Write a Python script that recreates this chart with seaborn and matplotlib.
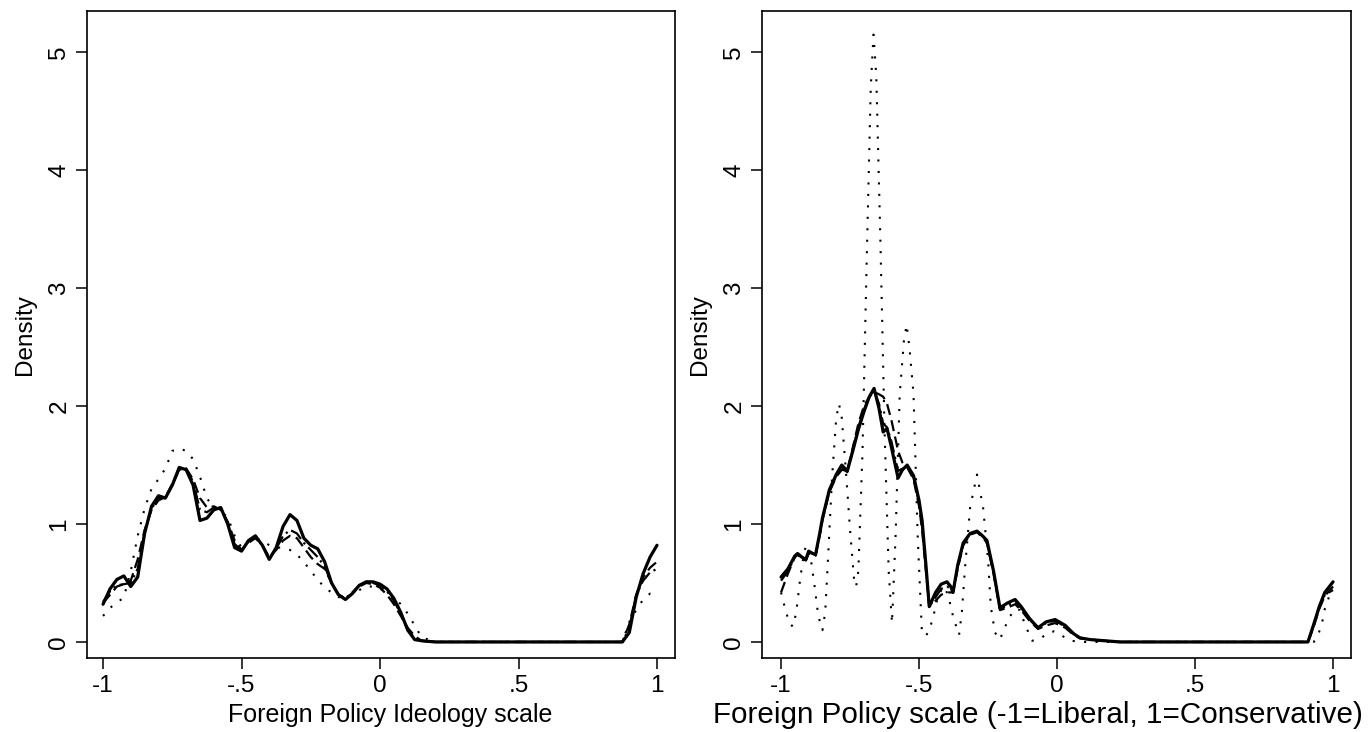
import matplotlib
matplotlib.use("Agg")
import matplotlib.pyplot as plt
import seaborn as sns
import pandas as pd

# ---- Left panel: foreign policy ideology scale -------------------------
left_x = [-1.0, -0.975, -0.95, -0.925, -0.9, -0.875, -0.85, -0.825, -0.8, -0.775,
          -0.75, -0.725, -0.7, -0.675, -0.65, -0.625, -0.6, -0.575, -0.55, -0.525,
          -0.5, -0.475, -0.45, -0.425, -0.4, -0.375, -0.35, -0.325, -0.3, -0.275,
          -0.25, -0.225, -0.2, -0.175, -0.15, -0.125, -0.1, -0.075, -0.05, -0.025,
          0.0, 0.025, 0.05, 0.075, 0.1, 0.125, 0.15, 0.2, 0.3, 0.5,
          0.7, 0.85, 0.875, 0.9, 0.925, 0.95, 0.975, 1.0]
left_solid = [0.32, 0.45, 0.53, 0.56, 0.47, 0.55, 0.92, 1.15, 1.24, 1.22,
              1.33, 1.48, 1.46, 1.33, 1.03, 1.05, 1.12, 1.14, 1.00, 0.80,
              0.77, 0.86, 0.90, 0.82, 0.70, 0.80, 0.98, 1.08, 1.03, 0.88,
              0.82, 0.79, 0.68, 0.50, 0.40, 0.36, 0.41, 0.48, 0.51, 0.51,
              0.49, 0.45, 0.37, 0.25, 0.10, 0.02, 0.01, 0.0, 0.0, 0.0,
              0.0, 0.0, 0.0, 0.08, 0.38, 0.58, 0.72, 0.82]
left_dash = [0.33, 0.40, 0.47, 0.49, 0.52, 0.70, 0.95, 1.12, 1.20, 1.23,
             1.34, 1.46, 1.47, 1.38, 1.22, 1.14, 1.15, 1.12, 1.02, 0.86,
             0.78, 0.84, 0.88, 0.82, 0.72, 0.78, 0.86, 0.90, 0.88, 0.80,
             0.72, 0.66, 0.62, 0.50, 0.40, 0.37, 0.41, 0.47, 0.50, 0.49,
             0.46, 0.40, 0.32, 0.22, 0.12, 0.05, 0.01, 0.0, 0.0, 0.0,
             0.0, 0.0, 0.0, 0.15, 0.40, 0.55, 0.63, 0.68]
left_dashdot = [0.34, 0.43, 0.48, 0.49, 0.50, 0.62, 0.93, 1.13, 1.22, 1.22,
                1.33, 1.46, 1.47, 1.36, 1.12, 1.10, 1.14, 1.13, 1.01, 0.83,
                0.78, 0.85, 0.89, 0.82, 0.71, 0.79, 0.90, 0.95, 0.92, 0.84,
                0.78, 0.72, 0.64, 0.50, 0.40, 0.37, 0.42, 0.48, 0.51, 0.50,
                0.48, 0.43, 0.35, 0.24, 0.11, 0.03, 0.01, 0.0, 0.0, 0.0,
                0.0, 0.0, 0.0, 0.12, 0.40, 0.52, 0.59, 0.62]
left_dot = [0.22, 0.29, 0.33, 0.38, 0.60, 0.90, 1.13, 1.30, 1.38, 1.47,
            1.62, 1.64, 1.62, 1.55, 1.40, 1.22, 1.13, 1.10, 1.06, 0.90,
            0.80, 0.86, 0.88, 0.86, 0.82, 0.80, 0.80, 0.78, 0.74, 0.68,
            0.60, 0.53, 0.46, 0.42, 0.38, 0.38, 0.40, 0.44, 0.47, 0.47,
            0.45, 0.42, 0.38, 0.32, 0.24, 0.14, 0.04, 0.0, 0.0, 0.0,
            0.0, 0.0, 0.0, 0.17, 0.27, 0.36, 0.41, 0.40]

# ---- Right panel: foreign policy scale ---------------------------------
right_x = [-1.0, -0.975, -0.95, -0.94, -0.925, -0.91, -0.9, -0.885, -0.875, -0.86,
           -0.85, -0.825, -0.8, -0.78, -0.76, -0.74, -0.72, -0.7, -0.68, -0.663,
           -0.645, -0.63, -0.616, -0.6, -0.576, -0.56, -0.543, -0.52, -0.5, -0.489,
           -0.475, -0.463, -0.44, -0.42, -0.399, -0.385, -0.377, -0.36, -0.34, -0.315,
           -0.29, -0.27, -0.254, -0.23, -0.207, -0.18, -0.152, -0.13, -0.1, -0.069,
           -0.04, -0.007, 0.03, 0.06, 0.083, 0.12, 0.228, 0.5, 0.909, 0.93,
           0.95, 0.97, 1.0]
right_solid = [0.55, 0.62, 0.73, 0.75, 0.72, 0.70, 0.77, 0.75, 0.74, 0.92,
               1.05, 1.29, 1.42, 1.50, 1.45, 1.62, 1.80, 1.95, 2.08, 2.15,
               1.98, 1.78, 1.81, 1.65, 1.39, 1.46, 1.50, 1.41, 1.20, 1.03,
               0.65, 0.30, 0.42, 0.49, 0.51, 0.47, 0.42, 0.65, 0.84, 0.92,
               0.94, 0.90, 0.86, 0.60, 0.29, 0.33, 0.36, 0.30, 0.20, 0.12,
               0.17, 0.19, 0.14, 0.07, 0.035, 0.02, 0.0, 0.0, 0.0, 0.15,
               0.30, 0.42, 0.51]
right_dash = [0.42, 0.58, 0.72, 0.74, 0.71, 0.69, 0.75, 0.74, 0.73, 0.90,
              1.03, 1.27, 1.40, 1.46, 1.45, 1.65, 1.85, 2.00, 2.08, 2.12,
              2.10, 2.08, 2.02, 1.88, 1.62, 1.52, 1.48, 1.38, 1.15, 0.95,
              0.60, 0.30, 0.35, 0.40, 0.42, 0.42, 0.42, 0.62, 0.82, 0.91,
              0.93, 0.89, 0.84, 0.58, 0.27, 0.29, 0.32, 0.27, 0.18, 0.11,
              0.14, 0.16, 0.12, 0.06, 0.03, 0.02, 0.0, 0.0, 0.0, 0.13,
              0.28, 0.39, 0.47]
right_dashdot = [0.52, 0.60, 0.72, 0.74, 0.72, 0.70, 0.76, 0.75, 0.74, 0.91,
                 1.04, 1.28, 1.41, 1.48, 1.44, 1.63, 1.82, 1.97, 2.08, 2.13,
                 2.02, 1.85, 1.82, 1.70, 1.45, 1.47, 1.49, 1.40, 1.18, 1.00,
                 0.63, 0.30, 0.38, 0.45, 0.47, 0.45, 0.42, 0.64, 0.83, 0.92,
                 0.94, 0.90, 0.85, 0.59, 0.28, 0.31, 0.34, 0.29, 0.19, 0.12,
                 0.16, 0.18, 0.13, 0.07, 0.035, 0.02, 0.0, 0.0, 0.0, 0.14,
                 0.29, 0.40, 0.44]
right_dot_x = [-1.0, -0.985, -0.97, -0.957, -0.945, -0.93, -0.915, -0.905, -0.895, -0.88,
               -0.865, -0.85, -0.84, -0.83, -0.815, -0.8, -0.79, -0.78, -0.765, -0.75,
               -0.735, -0.728, -0.72, -0.705, -0.69, -0.675, -0.665, -0.655, -0.64, -0.625,
               -0.61, -0.598, -0.585, -0.57, -0.555, -0.545, -0.535, -0.52, -0.505, -0.49,
               -0.475, -0.46, -0.445, -0.43, -0.41, -0.395, -0.375, -0.355, -0.345, -0.333,
               -0.315, -0.29, -0.268, -0.25, -0.24, -0.225, -0.207, -0.19, -0.17, -0.15,
               -0.134, -0.115, -0.09, -0.06, -0.03, -0.01, 0.02, 0.05, 0.1, 0.5,
               0.93, 0.946, 0.96, 0.97, 0.985, 1.0]
right_dot = [0.42, 0.28, 0.16, 0.13, 0.25, 0.55, 0.78, 0.82, 0.75, 0.50,
             0.22, 0.10, 0.25, 0.70, 1.40, 1.90, 2.02, 1.90, 1.45, 0.95,
             0.52, 0.47, 0.60, 1.60, 3.20, 4.70, 5.15, 4.80, 3.40, 1.80,
             0.60, 0.16, 0.90, 2.10, 2.55, 2.69, 2.50, 2.10, 0.90, 0.10,
             0.05, 0.12, 0.25, 0.40, 0.47, 0.40, 0.20, 0.06, 0.25, 0.64,
             1.14, 1.42, 1.14, 0.70, 0.30, 0.08, 0.02, 0.12, 0.22, 0.28,
             0.27, 0.14, 0.01, 0.03, 0.08, 0.09, 0.05, 0.01, 0.0, 0.0,
             0.0, 0.06, 0.16, 0.28, 0.38, 0.40]

x_ticks = [-1, -0.5, 0, 0.5, 1]
x_tick_labels = ["-1", "-.5", "0", ".5", "1"]
y_ticks = [0, 1, 2, 3, 4, 5]
y_tick_labels = ["0", "1", "2", "3", "4", "5"]
left_xlabel = "Foreign Policy Ideology scale"
right_xlabel = "Foreign Policy scale (-1=Liberal, 1=Conservative)"

sns.set_style("ticks")
plt.rcParams["font.family"] = ["Liberation Sans", "DejaVu Sans"]
plt.rcParams["text.color"] = "black"
plt.rcParams["axes.labelcolor"] = "black"
plt.rcParams["xtick.color"] = "black"
plt.rcParams["ytick.color"] = "black"

line_styles = {
    "solid": dict(linestyle="-", linewidth=2.3),
    "dash": dict(linestyle=(0, (5, 2.5)), linewidth=1.6),
    "dashdot": dict(linestyle=(0, (6, 2, 1, 2)), linewidth=1.6),
    "dot": dict(linestyle=(0, (1, 4.5)), linewidth=1.5),
}

fig = plt.figure(figsize=(13.68, 7.32), dpi=100)
ax_l = fig.add_axes([87 / 1368, 1 - 658 / 732, 588 / 1368, 647 / 732])
ax_r = fig.add_axes([762 / 1368, 1 - 658 / 732, 589 / 1368, 647 / 732])


def draw(ax, series):
    for key, xs, ys in series:
        df = pd.DataFrame({"x": xs, "y": ys})
        sns.lineplot(data=df, x="x", y="y", ax=ax, color="black",
                     errorbar=None, sort=True, **line_styles[key])


draw(ax_l, [("dot", left_x, left_dot),
            ("dashdot", left_x, left_dashdot),
            ("dash", left_x, left_dash),
            ("solid", left_x, left_solid)])
draw(ax_r, [("dot", right_dot_x, right_dot),
            ("dashdot", right_x, right_dashdot),
            ("dash", right_x, right_dash),
            ("solid", right_x, right_solid)])

panels = [(ax_l, left_xlabel, 18, (-1.058, 1.065), 0.515),
          (ax_r, right_xlabel, 21.3, (-1.069, 1.065), 0.4686)]
for ax, xlabel, xlsize, xlim, label_x in panels:
    ax.set_xlim(*xlim)
    ax.set_ylim(-0.136, 5.35)
    ax.set_xticks(x_ticks)
    ax.set_xticklabels(x_tick_labels, fontsize=17.5)
    ax.set_yticks(y_ticks)
    ax.set_yticklabels(y_tick_labels, fontsize=17.5, rotation=90, va="center")
    ax.tick_params(axis="both", direction="out", length=8, width=1.1,
                   color="black", labelcolor="black", pad=4)
    ax.set_xlabel(xlabel, fontsize=xlsize, color="black")
    ax.xaxis.set_label_coords(label_x, -0.088, transform=ax.transAxes)
    ax.xaxis.label.set_va("center")
    ax.set_ylabel("Density", fontsize=17.5, labelpad=9, color="black")
    for sp in ax.spines.values():
        sp.set_visible(True)
        sp.set_linewidth(1.2)
        sp.set_color("black")

fig.savefig("out.png", dpi=100, facecolor="white")
